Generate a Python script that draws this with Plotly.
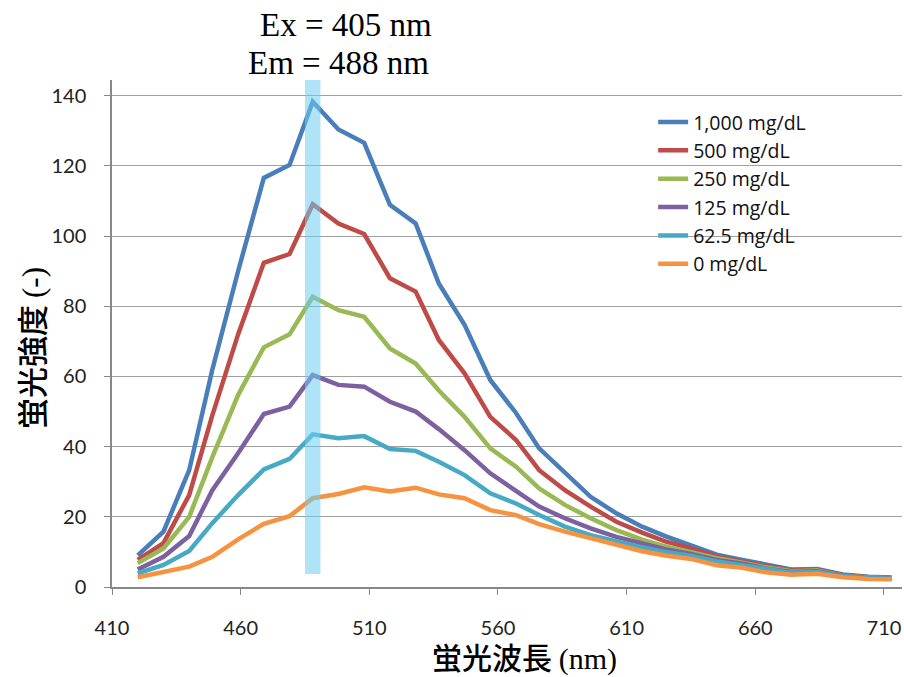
import plotly.graph_objects as go

wavelength = [420, 430, 440, 449, 459, 469, 479, 488, 498, 508, 518, 528, 537, 547, 557, 567,
              576, 586, 596, 606, 616, 625, 635, 645, 655, 664, 674, 684, 694, 704, 713]

series_names = ["1,000 mg/dL", "500 mg/dL", "250 mg/dL", "125 mg/dL", "62.5 mg/dL", "0 mg/dL"]

s1000 = [9.0, 15.8, 33.3, 62.0, 90.0, 116.6, 120.3, 138.3, 130.4, 126.6, 108.9, 103.6, 86.5, 74.7, 59.0, 49.6,
         39.5, 32.4, 25.7, 21.0, 17.2, 14.5, 12.0, 9.2, 7.7, 6.3, 5.0, 5.1, 3.6, 2.9, 2.7]
s500 = [7.7, 12.5, 26.2, 49.0, 72.0, 92.4, 94.9, 109.1, 103.6, 100.6, 88.0, 84.2, 70.4, 60.9, 48.5, 41.9,
        33.3, 27.6, 22.9, 18.6, 15.5, 13.0, 11.0, 8.7, 7.2, 5.9, 4.7, 4.9, 3.4, 2.8, 2.6]
s250 = [6.8, 11.0, 20.0, 37.0, 54.7, 68.3, 72.0, 82.7, 78.9, 77.0, 68.0, 63.7, 56.0, 48.5, 39.5, 34.3,
        28.1, 23.4, 19.6, 16.2, 13.5, 11.6, 9.9, 8.2, 6.9, 5.6, 4.5, 4.7, 3.3, 2.7, 2.5]
s125 = [5.0, 8.6, 14.5, 27.6, 38.1, 49.3, 51.4, 60.4, 57.6, 57.1, 52.8, 50.0, 45.0, 39.0, 32.4, 27.6,
        22.9, 19.6, 16.7, 14.3, 12.3, 10.8, 9.4, 7.7, 6.6, 5.3, 4.3, 4.5, 3.2, 2.6, 2.5]
s62_5 = [3.9, 6.3, 10.3, 18.2, 26.2, 33.5, 36.5, 43.5, 42.4, 43.0, 39.3, 38.8, 35.7, 31.9, 26.7, 23.8,
         20.5, 17.2, 14.8, 12.9, 11.3, 10.0, 8.9, 7.3, 6.3, 5.1, 4.1, 4.3, 3.1, 2.5, 2.4]
s0 = [2.8, 4.2, 5.8, 8.6, 13.6, 18.0, 20.2, 25.3, 26.5, 28.4, 27.2, 28.3, 26.4, 25.3, 21.9, 20.5,
      17.9, 15.8, 13.9, 12.3, 10.2, 9.0, 8.0, 6.2, 5.5, 4.2, 3.5, 3.8, 2.8, 2.3, 2.2]

series_values = [s1000, s500, s250, s125, s62_5, s0]
colors = ["#4A7EBB", "#BE4B48", "#98B954", "#7D60A0", "#46AAC5", "#F69240"]

x_ticks = [410, 460, 510, 560, 610, 660, 710]
y_ticks = [0, 20, 40, 60, 80, 100, 120, 140]

em_band = [485, 491]

fig = go.Figure()
for name, vals, col in zip(series_names, series_values, colors):
    fig.add_trace(go.Scatter(x=wavelength, y=vals, mode="lines", name=name,
                             line=dict(color=col, width=4.5)))

fig.add_shape(type="rect", xref="x", yref="y", x0=em_band[0], x1=em_band[1], y0=3.7, y1=144.5,
              fillcolor="rgba(110,205,242,0.55)", line=dict(width=0), layer="above")

tick_font = dict(family="Lato", size=20, color="#222222")

fig.update_layout(
    width=904, height=677,
    margin=dict(l=112, r=2, t=80, b=90),
    paper_bgcolor="white", plot_bgcolor="white",
    showlegend=True,
    legend=dict(x=0.685, y=0.955, xanchor="left", yanchor="top",
                font=dict(family="Open Sans", size=19.5, color="#111111"),
                bgcolor="rgba(0,0,0,0)", tracegroupgap=0),
    xaxis=dict(range=[410, 717], tickvals=x_ticks, ticktext=[str(v) for v in x_ticks],
               showgrid=False, zeroline=False, showline=True, linecolor="#888888", linewidth=1.5,
               ticks="outside", ticklen=6, tickcolor="#888888", tickfont=tick_font,
               ticklabelstandoff=16),
    yaxis=dict(range=[0, 144.5], tickvals=y_ticks, ticktext=[str(v) for v in y_ticks],
               showgrid=True, gridcolor="#A0A0A0", gridwidth=1, zeroline=False,
               showline=True, linecolor="#888888", linewidth=1.5,
               ticks="outside", ticklen=6, tickcolor="#888888", tickfont=tick_font,
               ticklabelstandoff=14),
)

fig.add_annotation(text="Ex = 405 nm", xref="paper", yref="paper",
                   x=(346 - 112) / 790, y=(587 - 25) / 507, xanchor="center", yanchor="middle",
                   showarrow=False, font=dict(family="Liberation Serif", size=33, color="black"))
fig.add_annotation(text="Em = 488 nm", xref="paper", yref="paper",
                   x=(338 - 112) / 790, y=(587 - 63) / 507, xanchor="center", yanchor="middle",
                   showarrow=False, font=dict(family="Liberation Serif", size=33, color="black"))

fig.add_annotation(text="蛍光波長 <span style='font-family:Liberation Serif'>(nm)</span>",
                   xref="paper", yref="paper", x=(524 - 112) / 790, y=(587 - 656) / 507,
                   xanchor="center", yanchor="middle", showarrow=False,
                   font=dict(family="Noto Sans CJK JP", size=30, color="black", weight=500))
fig.add_annotation(text="蛍光強度 <span style='font-family:Liberation Serif'>(-)</span>",
                   xref="paper", yref="paper", x=(30 - 112) / 790, y=(587 - 348) / 507,
                   xanchor="center", yanchor="middle", showarrow=False, textangle=-90,
                   font=dict(family="Noto Sans CJK JP", size=31, color="black", weight=500))

fig.write_html("out.html")
